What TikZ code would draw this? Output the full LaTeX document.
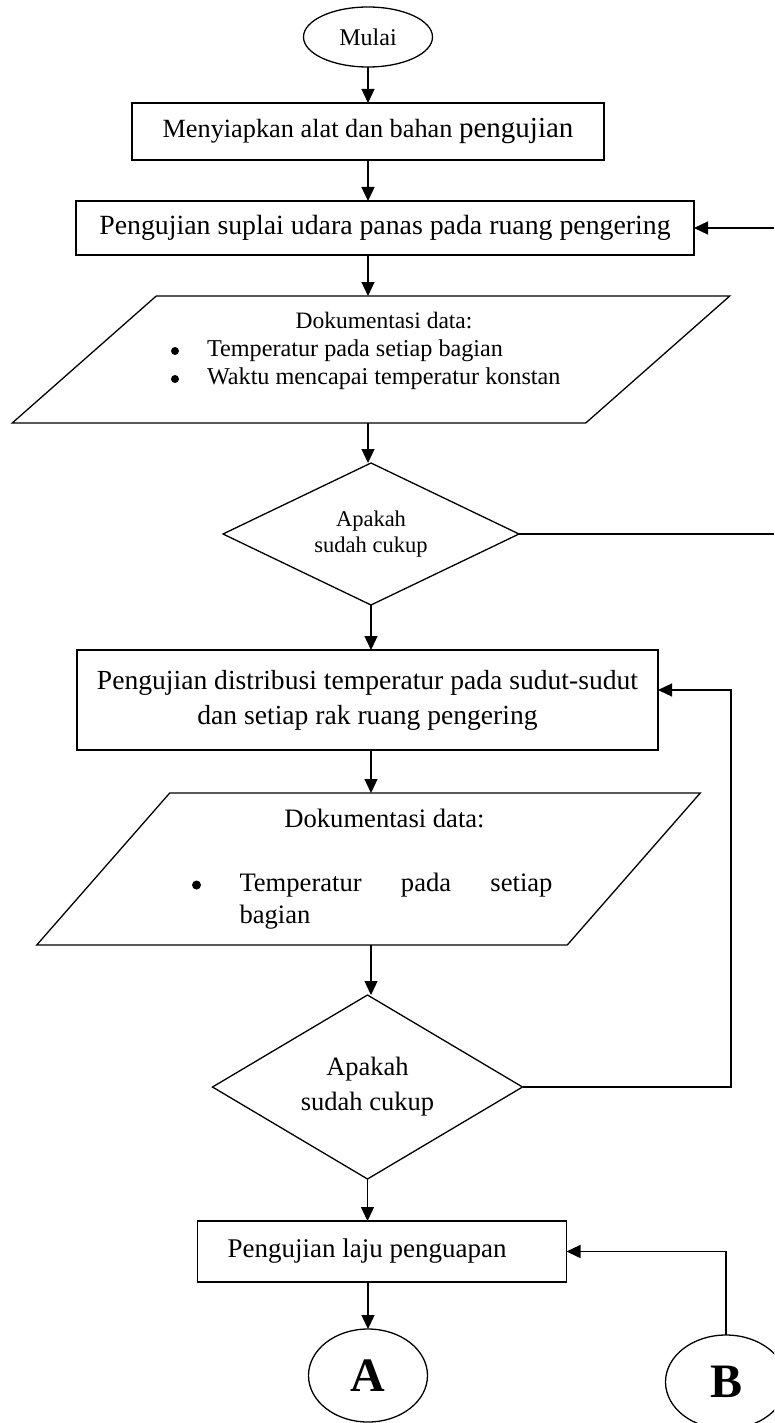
\documentclass[tikz,border=0pt]{standalone}
\usepackage{fontspec}
\setmainfont{Liberation Serif}
\usetikzlibrary{positioning,shapes.geometric,arrows.meta}

\begin{document}
\hyphenpenalty=10000
\begin{tikzpicture}[
x=1pt, y=1pt,
every node/.style={inner sep=0pt, outer sep=0pt},
proc/.style={rectangle, draw=black, line width=1.3pt, font=\fontsize{27}{32}\selectfont},
term/.style={ellipse, draw=black, line width=1.3pt},
decis/.style={diamond, draw=black, line width=1.3pt, align=center},
ioframe/.style={rectangle, draw=none},
dot/.style={circle, fill=black, minimum size=8pt},
arr/.style={-{Triangle[length=14pt,width=13pt]}, line width=1.3pt},
link/.style={line width=1.3pt},
]

%Page frame
\useasboundingbox (0,0) rectangle (774,-1423);
\clip (0,0) rectangle (774,-1423);
\coordinate (rim) at (774,0);
\coordinate (back) at (731,0);

%Start and first steps
\node[term, minimum width=129pt, minimum height=60pt, font=\fontsize{24}{27}\selectfont] (start) at (368,-37) {Mulai};
\node[proc, minimum width=472pt, minimum height=57pt, font=\fontsize{26.3}{32}\selectfont] (prep) [below=36pt of start] {Menyiapkan alat dan bahan {\fontsize{29}{32}\selectfont pengujian}};
\node[proc, minimum width=618pt, minimum height=54pt, font=\fontsize{27.8}{32}\selectfont] (supply) [below=41pt of prep, xshift=17pt] {Pengujian suplai udara panas pada ruang pengering};

%Data record 1
\node[ioframe, minimum width=573.5pt, minimum height=127pt] (doc1) [below=41pt of supply, xshift=-14pt] {};
\draw[link] ([xshift=72pt]doc1.north west) -- ([xshift=72pt]doc1.north east) -- ([xshift=-72pt]doc1.south east) -- ([xshift=-72pt]doc1.south west) -- cycle;
\node[font=\fontsize{23.5}{28}\selectfont, anchor=base] (doc1title) at ([xshift=13pt, yshift=31pt]doc1.center) {Dokumentasi data:};
\node[dot] (doc1dotA) at ([xshift=-196pt, yshift=8.5pt]doc1.center) {};
\node[dot] (doc1dotB) at ([xshift=-196pt, yshift=-19.5pt]doc1.center) {};
\node[font=\fontsize{24.2}{28}\selectfont, anchor=base west] (doc1itemA) at ([xshift=-164pt, yshift=3pt]doc1.center) {Temperatur pada setiap bagian};
\node[font=\fontsize{24.2}{28}\selectfont, anchor=base west] (doc1itemB) at ([xshift=-164pt, yshift=-25pt]doc1.center) {Waktu mencapai temperatur konstan};

%Decision 1
\node[decis, shape aspect=2.08, minimum width=296pt, minimum height=142pt, font=\fontsize{22.5}{26}\selectfont] (dec1) [below=40pt of doc1] {Apakah\\sudah cukup};

%Test 2
\node[proc, minimum width=581pt, minimum height=100pt, align=center, font=\fontsize{27.6}{35}\selectfont] (dist) [below=45pt of dec1, xshift=-3.5pt] {Pengujian distribusi temperatur pada sudut-sudut\\dan setiap rak ruang pengering};

%Data record 2
\node[ioframe, minimum width=530.5pt, minimum height=152pt] (doc2) [below=43pt of dist, xshift=1pt] {};
\draw[link] ([xshift=66.5pt]doc2.north west) -- ([xshift=66.5pt]doc2.north east) -- ([xshift=-66.5pt]doc2.south east) -- ([xshift=-66.5pt]doc2.south west) -- cycle;
\node[font=\fontsize{26.6}{30}\selectfont, anchor=base] (doc2title) at ([xshift=16pt, yshift=42pt]doc2.center) {Dokumentasi data:};
\node[dot, minimum size=9pt] (doc2dot) at ([xshift=-172pt, yshift=-16pt]doc2.center) {};
\node[font=\fontsize{26.6}{30}\selectfont, anchor=base west] (doc2itemA) at ([xshift=-129pt, yshift=-22pt]doc2.center) {\makebox[313pt][s]{Temperatur pada setiap}};
\node[font=\fontsize{26.6}{30}\selectfont, anchor=base west] (doc2itemB) at ([xshift=-129pt, yshift=-54pt]doc2.center) {bagian};

%Decision 2
\node[decis, shape aspect=1.68, minimum width=310pt, minimum height=184pt, font=\fontsize{26.5}{35}\selectfont] (dec2) [below=50pt of doc2, xshift=-1pt] {Apakah\\sudah cukup};

%Test 3
\node[proc, minimum width=369pt, minimum height=61pt] (rate) [below=42pt of dec2, xshift=14.5pt] {Pengujian laju penguapan\hspace*{30pt}};

%Connectors
\node[term, minimum width=119pt, minimum height=93pt, font=\bfseries\fontsize{48}{50}\selectfont] (conA) [below=47pt of rate, xshift=-14pt] {A};
\node[term, minimum width=121pt, minimum height=94pt, font=\bfseries\fontsize{48}{50}\selectfont] (conB) [right=238pt of conA, yshift=-6.5pt] {B};

%Main flow
\draw[arr] (start) -- (start.south |- prep.north);
\draw[arr] (prep.south) -- (prep.south |- supply.north);
\draw[arr] (prep.south |- supply.south) -- (prep.south |- doc1.north);
\draw[arr] (prep.south |- doc1.south) -- (prep.south |- dec1.north);
\draw[arr] (dec1.south) -- (dec1.south |- dist.north);
\draw[arr] (dec1.south |- dist.south) -- (dec1.south |- doc2.north);
\draw[arr] (dec1.south |- doc2.south) -- (dec1.south |- dec2.north);
\draw[arr] (dec2.south) -- (dec2.south |- rate.north);
\draw[arr] (conA.north |- rate.south) -- (conA.north);

%Loops
\draw[arr] (supply.east -| rim) -- (supply.east);
\draw[link] (dec1.east) -- (dec1.east -| rim);
\draw[arr] (dec2.east) -- (dec2.east -| back) -- ([yshift=10pt]dist.east -| back) -- ([yshift=10pt]dist.east);
\draw[arr] (conB.north) |- (rate.east);
\end{tikzpicture}
\end{document}
